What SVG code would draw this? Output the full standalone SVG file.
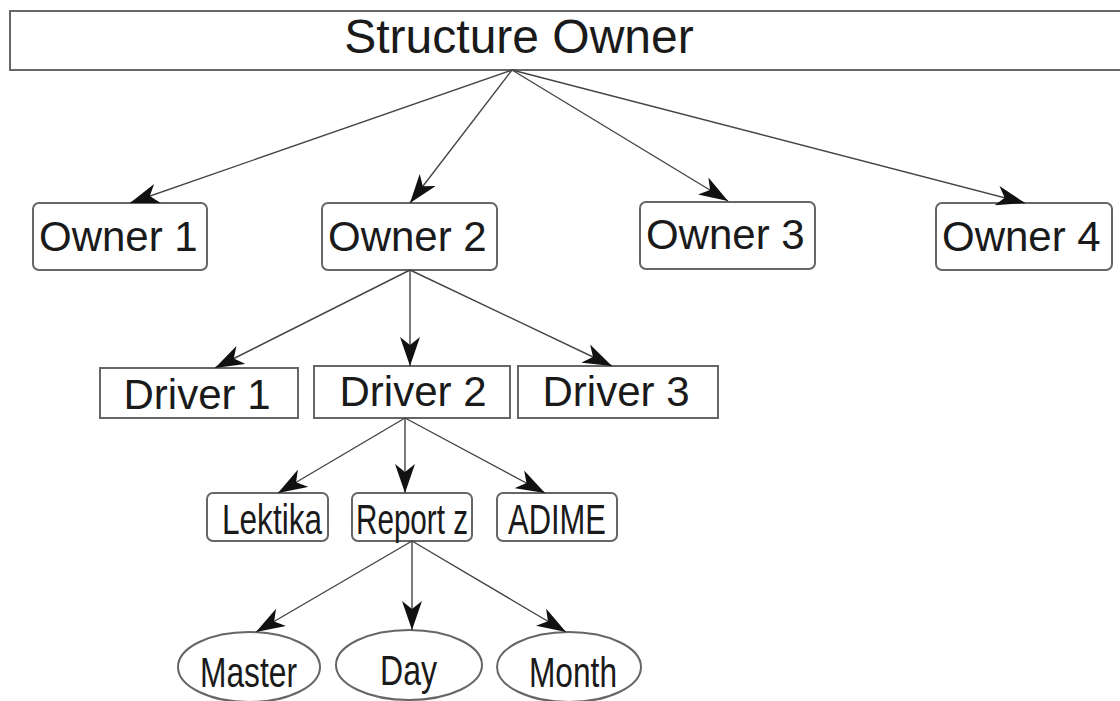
<svg xmlns="http://www.w3.org/2000/svg" width="1120" height="701" viewBox="0 0 1120 701">
<style>
.box{fill:#fff;stroke:#666;stroke-width:2}
.t{font-family:"Liberation Sans",Arial,sans-serif;fill:#1a1a1a}
.big{font-size:48px}
.mid{font-size:42px}
.sm{font-size:42px}
.edge{stroke:#444;stroke-width:1.4;fill:none;marker-end:url(#ah)}
</style>
<defs>
<marker id="ah" markerUnits="userSpaceOnUse" markerWidth="30" markerHeight="20" viewBox="0 0 30 20" refX="29" refY="10" orient="auto">
<path d="M0,0 L29,10 L0,20 L8,10 z" fill="#111"/>
</marker>
</defs>
<rect width="1120" height="701" fill="#fff"/>
<g id="root"><rect class="box" x="10" y="11" width="1120" height="59"/><text class="t big" x="519" y="53" text-anchor="middle">Structure Owner</text></g>
<g id="owner1"><rect class="box" x="33" y="203" width="174" height="67" rx="6"/><text class="t mid" x="39" y="251">Owner 1</text></g>
<g id="owner2"><rect class="box" x="322" y="203" width="175" height="67" rx="6"/><text class="t mid" x="328" y="251">Owner 2</text></g>
<g id="owner3"><rect class="box" x="640" y="202" width="175" height="67" rx="6"/><text class="t mid" x="646" y="249">Owner 3</text></g>
<g id="owner4"><rect class="box" x="936" y="203" width="176" height="67" rx="6"/><text class="t mid" x="942" y="251">Owner 4</text></g>
<g id="driver1"><rect class="box" x="100" y="368" width="198" height="50"/><text class="t mid" x="197" y="409" text-anchor="middle">Driver 1</text></g>
<g id="driver2"><rect class="box" x="314" y="366" width="196" height="52"/><text class="t mid" x="413" y="406" text-anchor="middle">Driver 2</text></g>
<g id="driver3"><rect class="box" x="518" y="366" width="200" height="52"/><text class="t mid" x="616" y="406" text-anchor="middle">Driver 3</text></g>
<g id="lektika"><rect class="box" x="207" y="493" width="121" height="48" rx="6"/><text class="t sm" x="222" y="534" textLength="100" lengthAdjust="spacingAndGlyphs">Lektika</text></g>
<g id="reportz"><rect class="box" x="352" y="493" width="120" height="48" rx="6"/><text class="t sm" x="356" y="534" textLength="112" lengthAdjust="spacingAndGlyphs">Report z</text></g>
<g id="adime"><rect class="box" x="497" y="493" width="120" height="48" rx="6"/><text class="t sm" x="508" y="534" textLength="98" lengthAdjust="spacingAndGlyphs">ADIME</text></g>
<g id="master"><ellipse class="box" cx="249" cy="667" rx="71" ry="35"/><text class="t sm" x="200" y="687" textLength="97" lengthAdjust="spacingAndGlyphs">Master</text></g>
<g id="day"><ellipse class="box" cx="409" cy="665" rx="73" ry="35"/><text class="t sm" x="380" y="685" textLength="57" lengthAdjust="spacingAndGlyphs">Day</text></g>
<g id="month"><ellipse class="box" cx="569" cy="667" rx="72" ry="35"/><text class="t sm" x="529" y="687" textLength="88" lengthAdjust="spacingAndGlyphs">Month</text></g>
<g id="connectors">
<path class="edge" d="M512,70 L130,203"/>
<path class="edge" d="M512,70 L410,203"/>
<path class="edge" d="M512,70 L728,201"/>
<path class="edge" d="M512,70 L1025,203"/>
<path class="edge" d="M410,270 L215,368"/>
<path class="edge" d="M410,270 L410,366"/>
<path class="edge" d="M410,270 L612,366"/>
<path class="edge" d="M405,418 L278,493"/>
<path class="edge" d="M405,418 L405,493"/>
<path class="edge" d="M405,418 L545,493"/>
<path class="edge" d="M412,541 L256,632"/>
<path class="edge" d="M412,541 L412,630"/>
<path class="edge" d="M412,541 L566,632"/>
</g>
</svg>
